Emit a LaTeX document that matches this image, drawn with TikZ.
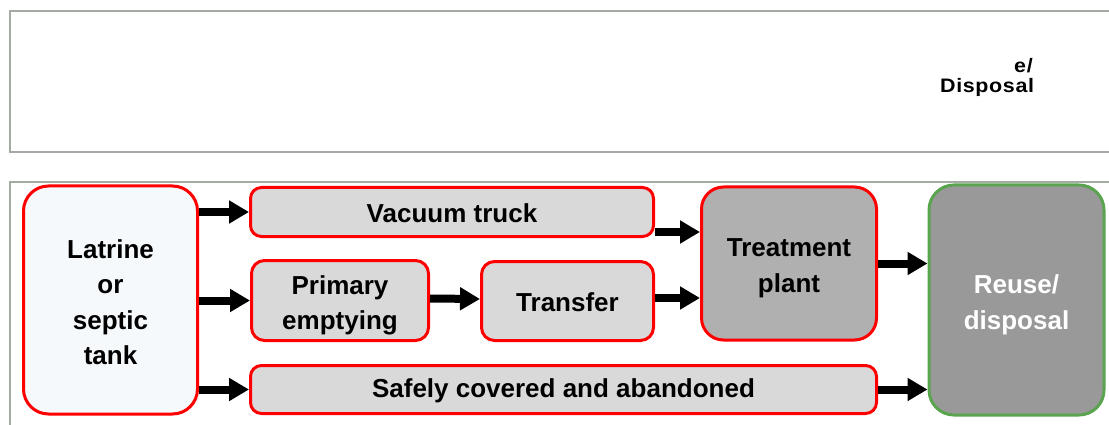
\documentclass[tikz,border=0pt]{standalone}
\usepackage{fontspec}
\setmainfont{Liberation Sans}
\usetikzlibrary{arrows.meta,calc}
\definecolor{framegray}{HTML}{A3ABA3}
\definecolor{boxred}{HTML}{FF0000}
\definecolor{boxgreen}{HTML}{5AA34F}
\definecolor{lightfill}{HTML}{F5F9FB}
\definecolor{grayfill}{HTML}{D9D9D9}
\definecolor{midfill}{HTML}{B0B0B0}
\definecolor{darkfill}{HTML}{999999}
\tikzset{
  frame/.style={draw=framegray, line width=2pt},
  stagebox/.style={draw=boxred, line width=3pt, fill=grayfill, rounded corners=11pt, inner sep=0pt},
  lbl/.style={align=center, inner sep=0pt, font=\bfseries\fontsize{26}{35.5}\selectfont},
  toptext/.style={anchor=base west, inner sep=0pt, font=\bfseries\fontsize{19.5}{20}\selectfont\addfontfeature{LetterSpace=3}},
  arr/.style={line width=8pt, -{Triangle[length=20pt,width=22pt]}},
}
\begin{document}
\begin{tikzpicture}[x=1pt,y=-1pt]
\useasboundingbox (0,0) rectangle (1109,425);
\fill[white] (0,0) rectangle (1109,425);
% frames
\draw[frame] (10,11) rectangle (1120,152);
\draw[frame] (10,182) rectangle (1120,440);
% top texts
\node[toptext] (te) at (1014,73) {\scalebox{1.1}[1]{e/}};
\node[toptext] (td) at (940,93) {\scalebox{1.1}[1]{Disposal}};
% boxes
\node[stagebox, fill=lightfill, rounded corners=25pt, minimum width=174pt, minimum height=228pt] (lat) at (110.5,300) {};
\node[stagebox, minimum width=403pt, minimum height=49pt] (vac) at (452,212) {};
\node[stagebox, rounded corners=13pt, minimum width=177pt, minimum height=80pt] (prim) at (340,300.5) {};
\node[stagebox, rounded corners=13pt, minimum width=172pt, minimum height=79pt] (trans) at (567.5,301) {};
\node[stagebox, minimum width=626pt, minimum height=48pt] (safe) at (563.5,389.5) {};
\node[stagebox, fill=midfill, rounded corners=22pt, minimum width=175pt, minimum height=153pt] (treat) at (789,263.5) {};
\node[stagebox, draw=boxgreen, fill=darkfill, rounded corners=25pt, minimum width=175pt, minimum height=230pt] (reuse) at (1016.5,300) {};
% labels
\node[lbl] (latT) at ([yshift=-2pt]lat.center) {Latrine\\or\\septic\\tank};
\node[lbl] (vacT) at ([yshift=-1pt]vac.center) {Vacuum truck};
\node[lbl] (primT) at ([yshift=-5pt]prim.center) {Primary\\emptying};
\node[lbl] (transT) at ([yshift=-1pt]trans.center) {Transfer};
\node[lbl] (safeT) at ([yshift=-1pt]safe.center) {Safely covered and abandoned};
\node[lbl] (treatT) at ([yshift=-5pt]treat.center) {Treatment\\plant};
\node[lbl, text=white] (reuseT) at ([yshift=-5pt]reuse.center) {Reuse/\\disposal};
% arrows
\draw[arr] (vac.west -| lat.east) -- (vac.west);
\draw[arr] (prim.west -| lat.east) -- (prim.west);
\draw[arr] (safe.west -| lat.east) -- (safe.west);
\draw[arr] ([yshift=-20pt]vac.east) -- ([yshift=-20pt]vac.east -| treat.west);
\draw[arr] ([yshift=2pt]prim.east) -- ([yshift=2pt]trans.west);
\draw[arr] ([yshift=3pt]trans.east) -- ([yshift=3pt]trans.east -| treat.west);
\draw[arr] (treat.east) -- (treat.east -| reuse.west);
\draw[arr] (safe.east) -- (safe.east -| reuse.west);
\end{tikzpicture}
\end{document}
